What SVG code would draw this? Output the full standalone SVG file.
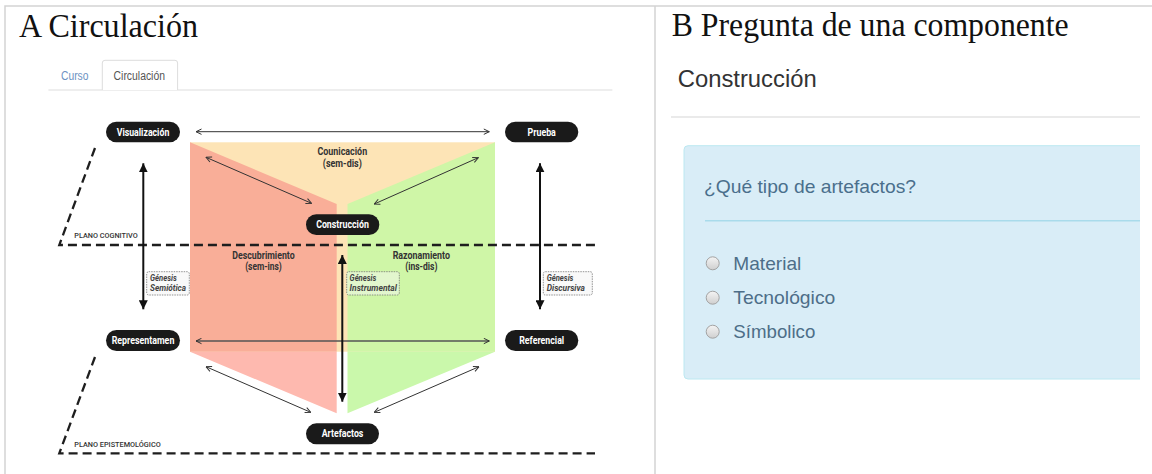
<svg xmlns="http://www.w3.org/2000/svg" width="1152" height="474" viewBox="0 0 1152 474">
<defs>
<style>
.title{font-family:"Liberation Serif","Times New Roman",serif;font-size:34px;fill:#111}
.pill{fill:#1a1a1a}
.pt{font-family:Roboto,"Liberation Sans",sans-serif;font-weight:bold;font-size:10.5px;fill:#fff;text-anchor:middle}
.fl{font-family:Roboto,"Liberation Sans",sans-serif;font-weight:bold;font-size:10px;fill:#333;text-anchor:middle}
.gl{font-family:Roboto,"Liberation Sans",sans-serif;font-weight:bold;font-style:italic;font-size:9px;fill:#444}
.gb{stroke:#777;stroke-width:0.8;stroke-dasharray:1.5 1}
.plano{font-family:Roboto,"Liberation Sans",sans-serif;font-weight:500;font-size:7px;fill:#333}
.dash{fill:none;stroke:#1e1e1e;stroke-width:2.3;stroke-dasharray:9 5}
.thin{fill:none;stroke:#333;stroke-width:1;marker-start:url(#chev);marker-end:url(#chev)}
.thick{fill:none;stroke:#111;stroke-width:2;marker-start:url(#tri);marker-end:url(#tri)}
.ui{font-family:"Liberation Sans",Arial,sans-serif}
.radio{fill:url(#rg);stroke:#a3a3a3;stroke-width:1}
.rl{font-family:"Liberation Sans",Arial,sans-serif;font-size:19px;fill:#4d6e88}
</style>
<marker id="chev" viewBox="0 0 7 7" refX="6.5" refY="3.5" markerWidth="7" markerHeight="7" markerUnits="userSpaceOnUse" orient="auto-start-reverse">
<path d="M1,0.8 L6.5,3.5 L1,6.2" fill="none" stroke="#333" stroke-width="1"/>
</marker>
<marker id="tri" viewBox="0 0 9 9" refX="9" refY="4.5" markerWidth="9" markerHeight="9" markerUnits="userSpaceOnUse" orient="auto-start-reverse">
<path d="M0,0 L9,4.5 L0,9 z" fill="#111"/>
</marker>
<linearGradient id="rg" x1="0" y1="0" x2="0" y2="1">
<stop offset="0" stop-color="#f4f4f4"/>
<stop offset="1" stop-color="#cfcfcf"/>
</linearGradient>
</defs>
<rect width="1152" height="474" fill="#fff"/>
<!-- panel borders -->
<g id="borders" fill="none" stroke="#d3d3d3" stroke-width="1.5">
<path d="M5,474 V6 H1152"/>
<path d="M655,6 V474"/>
</g>
<text class="title" x="19" y="37" textLength="179" lengthAdjust="spacingAndGlyphs">A Circulación</text>
<text class="title" x="671.7" y="36" textLength="397" lengthAdjust="spacingAndGlyphs">B Pregunta de una componente</text>

<!-- tabs -->
<g id="tabs">
<path d="M48.4,90 H612.4" stroke="#dddddd" stroke-width="1"/>
<path d="M102.3,90 V63 Q102.3,60.3 105,60.3 H175 Q177.6,60.3 177.6,63 V90" fill="#fff" stroke="#dddddd" stroke-width="1"/>
<text class="ui" x="61" y="79.5" font-size="12" fill="#6d92c2" textLength="27.4" lengthAdjust="spacingAndGlyphs">Curso</text>
<text class="ui" x="113.6" y="79.5" font-size="12" fill="#555" textLength="51.4" lengthAdjust="spacingAndGlyphs">Circulación</text>
</g>

<!-- faces -->
<g id="faces">
<rect x="190" y="142.3" width="305" height="209.4" fill="#fde4b6"/>
<polygon points="190,142.3 336.7,204 336.7,351.7 190,351.7" fill="#f9ae98"/>
<polygon points="190,351.7 336.7,351.7 336.7,413.3" fill="#feb9af"/>
<polygon points="347.5,204 495,142.3 495,351.7 347.5,351.7" fill="#cff6a7"/>
<polygon points="347.5,351.7 495,351.7 347.5,413.3" fill="#caf8ab"/>
<text class="fl" x="342.3" y="155" textLength="49.7" lengthAdjust="spacingAndGlyphs">Counicación</text>
<text class="fl" x="342.3" y="166.7" textLength="39" lengthAdjust="spacingAndGlyphs">(sem-dis)</text>
<text class="fl" x="263.5" y="258.8" textLength="62.3" lengthAdjust="spacingAndGlyphs">Descubrimiento</text>
<text class="fl" x="263.5" y="270" textLength="36.7" lengthAdjust="spacingAndGlyphs">(sem-ins)</text>
<text class="fl" x="421.3" y="258.8" textLength="57.3" lengthAdjust="spacingAndGlyphs">Razonamiento</text>
<text class="fl" x="421.3" y="270" textLength="32.3" lengthAdjust="spacingAndGlyphs">(ins-dis)</text>
</g>

<!-- planes -->
<g id="planes">
<path class="dash" d="M95,148 L59.3,245 H595"/>
<path class="dash" d="M95,357 L59.3,453.3 H595"/>
<text class="plano" x="74.3" y="238.3" textLength="63.4" lengthAdjust="spacingAndGlyphs">PLANO COGNITIVO</text>
<text class="plano" x="74.3" y="447.3" textLength="86.4" lengthAdjust="spacingAndGlyphs">PLANO EPISTEMOLÓGICO</text>
</g>

<!-- connectors -->
<g id="connectors">
<line class="thin" x1="196" y1="131.7" x2="489.3" y2="131.7"/>
<line class="thin" x1="196" y1="341" x2="489.3" y2="341" style="stroke:#555;stroke-width:1.5"/>
<line class="thin" x1="206" y1="157.3" x2="311.5" y2="203.3"/>
<line class="thin" x1="478.3" y1="157.7" x2="374.3" y2="204"/>
<line class="thin" x1="206" y1="366.7" x2="310.7" y2="412.3"/>
<line class="thin" x1="479" y1="366.7" x2="374.3" y2="412.3"/>
<line class="thick" x1="143.3" y1="163.3" x2="143.3" y2="309.3"/>
<line class="thick" x1="540" y1="163.3" x2="540" y2="309.3"/>
<line class="thick" x1="342.3" y1="255" x2="342.3" y2="401.7"/>
</g>

<!-- genesis labels -->
<g id="genesis-semiotica">
<rect class="gb" x="146.7" y="271.7" width="42.6" height="23.3" rx="2" fill="#f9f9f9"/>
<text class="gl" x="150" y="280.6" textLength="26.7" lengthAdjust="spacingAndGlyphs">Génesis</text>
<text class="gl" x="150" y="291" textLength="36" lengthAdjust="spacingAndGlyphs">Semiótica</text>
</g>
<g id="genesis-instrumental">
<rect class="gb" x="346.7" y="271.7" width="52.6" height="23.3" rx="2" fill="#e2f6cd"/>
<text class="gl" x="349.6" y="280.6" textLength="26.7" lengthAdjust="spacingAndGlyphs">Génesis</text>
<text class="gl" x="349.6" y="291" textLength="47.3" lengthAdjust="spacingAndGlyphs">Instrumental</text>
</g>
<g id="genesis-discursiva">
<rect class="gb" x="543.3" y="271.7" width="49" height="23.3" rx="2" fill="#f9f9f9"/>
<text class="gl" x="546.7" y="280.6" textLength="26.7" lengthAdjust="spacingAndGlyphs">Génesis</text>
<text class="gl" x="546.7" y="291" textLength="38.3" lengthAdjust="spacingAndGlyphs">Discursiva</text>
</g>

<!-- nodes -->
<g id="visualizacion">
<rect class="pill" x="106" y="121.7" width="74" height="20.6" rx="10.3"/>
<text class="pt" x="143" y="135.7" textLength="52.6" lengthAdjust="spacingAndGlyphs">Visualización</text>
</g>
<g id="prueba">
<rect class="pill" x="505" y="121.7" width="73.3" height="20.6" rx="10.3"/>
<text class="pt" x="541.7" y="135.7" textLength="28.3" lengthAdjust="spacingAndGlyphs">Prueba</text>
</g>
<g id="construccion">
<rect class="pill" x="306" y="214.3" width="73.3" height="20.7" rx="10.3"/>
<text class="pt" x="342.5" y="228.3" textLength="52.7" lengthAdjust="spacingAndGlyphs">Construcción</text>
</g>
<g id="representamen">
<rect class="pill" x="106" y="330" width="74" height="21" rx="10.5"/>
<text class="pt" x="143" y="344.1" textLength="62.7" lengthAdjust="spacingAndGlyphs">Representamen</text>
</g>
<g id="referencial">
<rect class="pill" x="505" y="330" width="73.3" height="21" rx="10.5"/>
<text class="pt" x="541.7" y="344.1" textLength="45" lengthAdjust="spacingAndGlyphs">Referencial</text>
</g>
<g id="artefactos">
<rect class="pill" x="306" y="423.3" width="73" height="21" rx="10.5"/>
<text class="pt" x="342.5" y="437.4" textLength="41.7" lengthAdjust="spacingAndGlyphs">Artefactos</text>
</g>

<!-- right panel -->
<g id="question-panel">
<text class="ui" x="677.7" y="87" font-size="23.5" fill="#333" textLength="139" lengthAdjust="spacingAndGlyphs">Construcción</text>
<path d="M671,117 H1140" stroke="#e3e3e3" stroke-width="1.5"/>
<path d="M1140,145.7 H688 Q684,145.7 684,149.7 V375 Q684,379 688,379 H1140" fill="#d9edf7" stroke="#bce8f1" stroke-width="1"/>
<rect x="1140" y="140" width="12" height="245" fill="#fff"/>
<text class="ui" x="704" y="193" font-size="19" fill="#4a6f8c" textLength="212" lengthAdjust="spacingAndGlyphs">¿Qué tipo de artefactos?</text>
<path d="M705,220.7 H1140" stroke="#a9dbeb" stroke-width="1.5"/>
<circle class="radio" cx="712.7" cy="263.3" r="6.5"/>
<circle class="radio" cx="712.7" cy="297.7" r="6.5"/>
<circle class="radio" cx="712.7" cy="331.7" r="6.5"/>
<text class="rl" x="733.3" y="269.5" textLength="68" lengthAdjust="spacingAndGlyphs">Material</text>
<text class="rl" x="733.3" y="303.7" textLength="102" lengthAdjust="spacingAndGlyphs">Tecnológico</text>
<text class="rl" x="733.3" y="337.7" textLength="82" lengthAdjust="spacingAndGlyphs">Símbolico</text>
</g>
</svg>
